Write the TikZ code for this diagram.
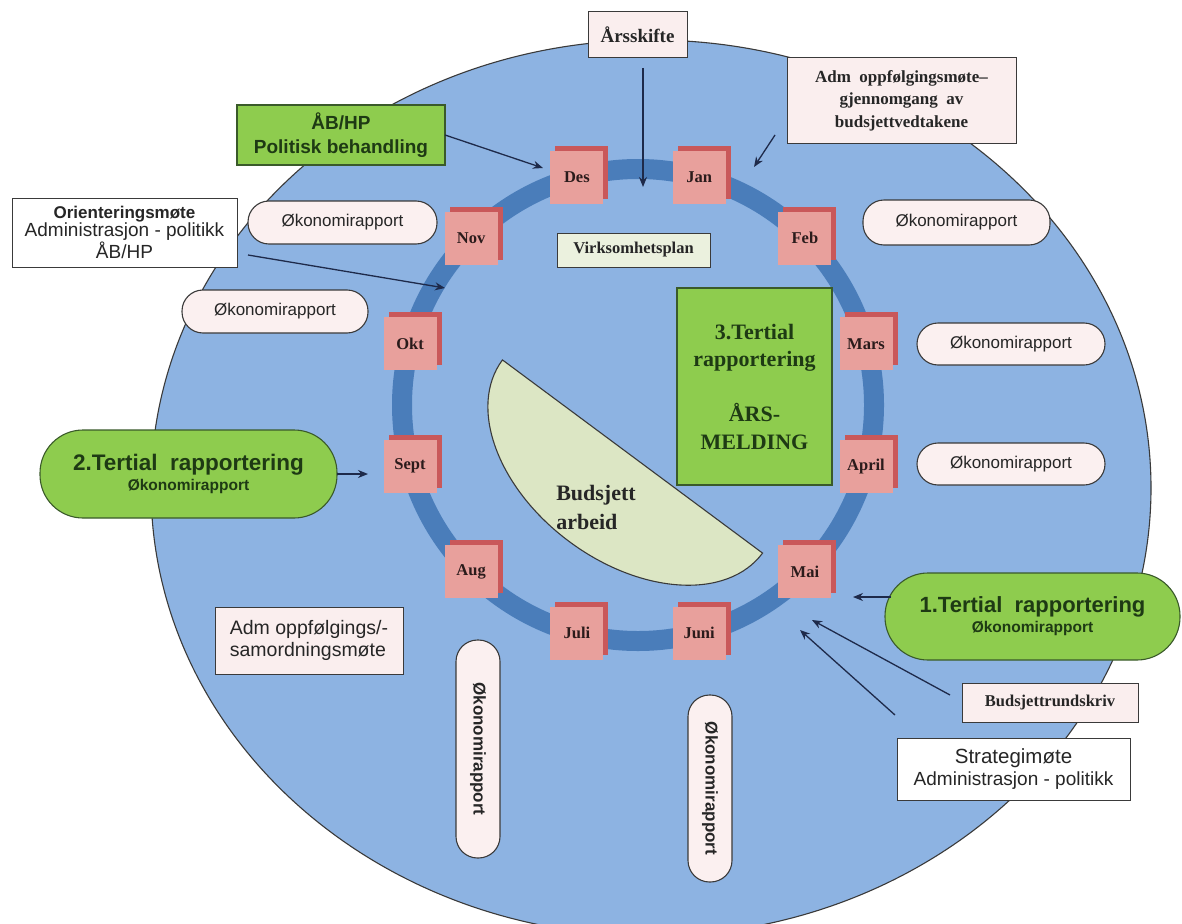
\documentclass[tikz,border=0pt]{standalone}
\usepackage{fontspec}
\setmainfont{Liberation Serif}
\newfontfamily\sansf{Liberation Sans}
\usetikzlibrary{arrows.meta,shadows,calc}

\definecolor{bigblue}{HTML}{8DB3E2}
\definecolor{ringblue}{HTML}{4A7DBA}
\definecolor{monthface}{HTML}{E8A09C}
\definecolor{monthdark}{HTML}{C9585A}
\definecolor{monthtext}{HTML}{2B1B1B}
\definecolor{pinkbox}{HTML}{FAEEEE}
\definecolor{pillfill}{HTML}{FBF0F0}
\definecolor{greenbox}{HTML}{8ECC4E}
\definecolor{greenline}{HTML}{3A5A2A}
\definecolor{greentext}{HTML}{1E3A14}
\definecolor{virkfill}{HTML}{EBF1DE}
\definecolor{semifill}{HTML}{DCE6C4}
\definecolor{arrowc}{HTML}{1E2A4A}
\definecolor{edgec}{HTML}{3A3A3A}
\definecolor{textc}{HTML}{262626}

\begin{document}
\begin{tikzpicture}[x=1pt,y=-1pt,
  every node/.style={inner sep=0pt, outer sep=0pt},
  month/.style={fill=monthface, minimum width=53pt, minimum height=53pt,
    general shadow={fill=monthdark, shadow xshift=5pt, shadow yshift=5pt},
    font=\fontsize{16.5}{16.5}\selectfont\bfseries, text=monthtext},
  pinkrect/.style={draw=edgec, line width=1pt, fill=pinkbox, align=center, text=textc},
  whiterect/.style={draw=edgec, line width=1pt, fill=white, align=center, text=textc},
  greenrect/.style={draw=greenline, line width=1.1pt, fill=greenbox, align=center, text=greentext},
  pill/.style={draw=edgec, line width=1.1pt, fill=pillfill, rounded corners=21pt,
    font=\sansf\fontsize{17}{17}\selectfont, text=textc},
  greenpill/.style={draw=greenline, line width=1.1pt, fill=greenbox, rounded corners=43pt,
    align=center, text=greentext},
  arr/.style={draw=arrowc, line width=1.3pt, -{Stealth[length=10pt,width=8pt]}},
]
\useasboundingbox (0,0) rectangle (1182,923);
\fill[white] (0,0) rectangle (1182,923);

% big ellipse
\begin{scope}
  \clip (0,0) rectangle (1182,923);
  \draw[fill=bigblue, draw=edgec, line width=1.1pt] (651,488) ellipse[x radius=500, y radius=448];
\end{scope}

% ring
\draw[ringblue, line width=20pt] (638,405) circle[radius=236];

% half-ellipse "Budsjett arbeid"
\begin{scope}[shift={(632.5,456.5)}, rotate=-36.6]
  \draw[fill=semifill, draw=edgec, line width=1.1pt]
    (162,0) arc[start angle=0, end angle=180, x radius=162, y radius=106] -- cycle;
\end{scope}
\node[align=left, font=\fontsize{22}{29}\selectfont\bfseries, text=textc] (budtxt) at (596,507) {Budsjett\\arbeid};

% months
\node[month] (jan)  at (699.1,177)   {Jan};
\node[month] (feb)  at (804.9,238.1) {Feb};
\node[month] (mar)  at (866,343.9)   {Mars};
\node[month] (apr)  at (866,466.1)   {April};
\node[month] (mai)  at (804.9,571.9) {Mai};
\node[month] (jun)  at (699.1,633)   {Juni};
\node[month] (jul)  at (576.9,633)   {Juli};
\node[month] (aug)  at (471.1,571.9) {Aug};
\node[month] (sep)  at (410,466.1)   {Sept};
\node[month] (okt)  at (410,343.9)   {Okt};
\node[month] (nov)  at (471.1,238.1) {Nov};
\node[month] (des)  at (576.9,177)   {Des};

% boxes
\node[pinkrect, minimum width=99pt, minimum height=46pt, font=\fontsize{19}{19}\selectfont\bfseries]
  (ars) at (637.5,35) {Årsskifte};
\node[pinkrect, minimum width=229pt, minimum height=85pt, font=\fontsize{17}{22.5}\selectfont\bfseries]
  (admtop) at (901.5,100.5) {Adm\ \ oppfølgingsmøte--\\gjennomgang\ \ av\\budsjettvedtakene};
\node[greenrect, minimum width=208pt, minimum height=60pt, font=\sansf\fontsize{19}{24}\selectfont\bfseries]
  (abhp) at (341,135) {ÅB/HP\\Politisk behandling};
\node[whiterect, minimum width=225pt, minimum height=69pt, font=\sansf\fontsize{19}{18}\selectfont]
  (orient) at (124.5,232.5) {{\fontsize{17}{18}\selectfont\bfseries Orienteringsmøte}\\Administrasjon - politikk\\ÅB/HP};
\node[pill, minimum width=189pt, minimum height=43pt] (pnov) at (342.5,222.5) {Økonomirapport};
\node[pill, minimum width=186pt, minimum height=43pt] (pokt) at (275,311.5) {Økonomirapport};
\node[pill, minimum width=187pt, minimum height=45pt] (pfeb) at (956.5,222.5) {Økonomirapport};
\node[pill, minimum width=188pt, minimum height=42pt] (pmar) at (1011,344) {Økonomirapport};
\node[pill, minimum width=188pt, minimum height=42pt] (papr) at (1011,464) {Økonomirapport};
\node[draw=edgec, line width=1pt, fill=virkfill, minimum width=153pt, minimum height=34pt,
  font=\fontsize{16.5}{16.5}\selectfont\bfseries, text=textc] (virk) at (633.5,250) {Virksomhetsplan};
\node[greenrect, minimum width=155pt, minimum height=197pt, font=\fontsize{22}{27.5}\selectfont\bfseries]
  (tert3) at (754.5,386.5) {3.Tertial\\rapportering\\~\\ÅRS-\\MELDING};
\node[greenpill, minimum width=297pt, minimum height=88pt] (tert2) at (188.5,474)
  {{\sansf\fontsize{22.5}{24}\selectfont\bfseries 2.Tertial\ \ rapportering}\\[3pt]{\sansf\fontsize{15.5}{17}\selectfont\bfseries Økonomirapport}};
\node[greenpill, minimum width=295pt, minimum height=87pt] (tert1) at (1032.5,616.5)
  {{\sansf\fontsize{22}{24}\selectfont\bfseries 1.Tertial\ \ rapportering}\\[3pt]{\sansf\fontsize{15.5}{17}\selectfont\bfseries Økonomirapport}};
\node[pinkrect, minimum width=188pt, minimum height=67pt, align=left, font=\sansf\fontsize{19.5}{22}\selectfont]
  (admbot) at (309,640.5) {Adm oppfølgings/-\\samordningsmøte};
\node[pinkrect, minimum width=176pt, minimum height=39pt, font=\fontsize{16.5}{16.5}\selectfont\bfseries]
  (bud) at (1050,702.5) {Budsjettrundskriv};
\node[whiterect, minimum width=233pt, minimum height=62pt, font=\sansf\fontsize{19}{22}\selectfont]
  (strat) at (1013.5,769) {{\fontsize{20.5}{22}\selectfont Strategimøte}\\Administrasjon - politikk};
\node[pill, rounded corners=21.5pt, rotate=-90, minimum width=218pt, minimum height=44pt,
  font=\sansf\fontsize{17}{17}\selectfont\bfseries] (pv1) at (478,749) {Økonomirapport};
\node[pill, rounded corners=21.5pt, rotate=-90, minimum width=187pt, minimum height=44pt,
  font=\sansf\fontsize{17}{17}\selectfont\bfseries] (pv2) at (710,788.5) {Økonomirapport};

% arrow end points
\coordinate (arsB) at (643,187);
\coordinate (admA) at (775,135);
\coordinate (admB) at (754,167);
\coordinate (desA) at (543,168);
\coordinate (orA) at (248,255);
\coordinate (orB) at (445,288);
\coordinate (t2B) at (368,474);
\coordinate (t1A) at (891,597);
\coordinate (t1B) at (853,597);
\coordinate (budA) at (950,695);
\coordinate (budB) at (812,620);
\coordinate (stA) at (895,715);
\coordinate (stB) at (800,630);

% arrows
\draw[arr, shorten <=10pt] (ars.south -| arsB) -- (arsB);
\draw[arr] (admA) -- (admB);
\draw[arr] (abhp.east) -- (desA);
\draw[arr] (orA) -- (orB);
\draw[arr] (tert2.east) -- (t2B);
\draw[arr] (t1A) -- (t1B);
\draw[arr] (budA) -- (budB);
\draw[arr] (stA) -- (stB);
\end{tikzpicture}
\end{document}
